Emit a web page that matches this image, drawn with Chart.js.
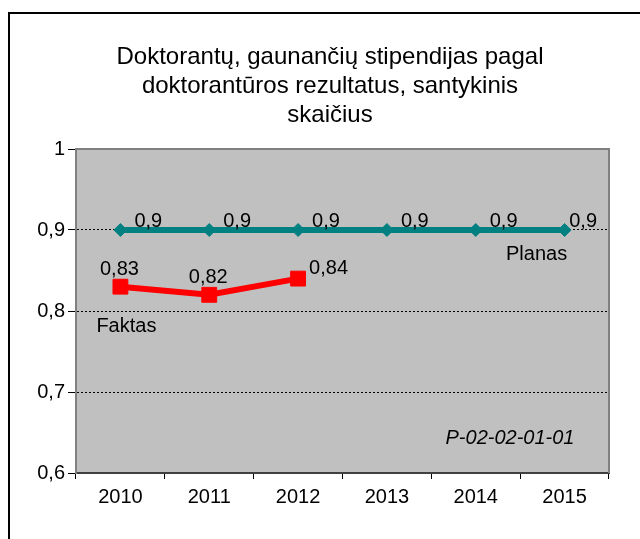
<!DOCTYPE html>
<html>
<head>
<meta charset="utf-8">
<script src="https://cdn.jsdelivr.net/npm/chart.js@4.4.1/dist/chart.umd.min.js"></script>
<style>
  html, body { margin: 0; padding: 0; background: #fff; overflow: hidden; }
  #frame { position: absolute; left: 8px; top: 12px; width: 700px; height: 600px;
           border-top: 2px solid #000; border-left: 2px solid #000; }
  #chart { position: absolute; left: 0; top: 0; }
</style>
</head>
<body>
<div id="frame"></div>
<canvas id="chart" width="640" height="539"></canvas>
<script>
// chart data
const years = ['2010', '2011', '2012', '2013', '2014', '2015'];
const planas = [0.9, 0.9, 0.9, 0.9, 0.9, 0.9];
const faktas = [0.83, 0.82, 0.84, null, null, null];
const yMin = 0.6;
const yMax = 1;
const yStep = 0.1;
const titleLines = [
    'Doktorantų, gaunančių stipendijas pagal',
    'doktorantūros rezultatus, santykinis',
    'skaičius'
];
const seriesNames = ['Planas', 'Faktas'];
const footnote = 'P-02-02-01-01';

const FONT = "'Liberation Sans', Arial, sans-serif";

function fmt(v) {
    return String(Math.round(v * 100) / 100).replace('.', ',');
}

// where the Faktas value labels sit (Excel moved the last one)
const faktasPlacement = ['above', 'above', 'right'];

const extras = {
    id: 'extras',
    beforeDraw(chart) {
        const ctx = chart.ctx;
        const a = chart.chartArea;
        ctx.save();
        ctx.fillStyle = '#C0C0C0';
        ctx.fillRect(a.left, a.top, a.right - a.left, a.bottom - a.top);

        // title, centred on the whole frame like Excel does it
        ctx.fillStyle = '#000';
        ctx.font = '24px ' + FONT;
        ctx.textAlign = 'center';
        ctx.textBaseline = 'alphabetic';
        titleLines.forEach((line, i) => {
            ctx.fillText(line, 330, 64 + i * 29);
        });
        ctx.restore();
    },
    beforeDatasetsDraw(chart) {
        const ctx = chart.ctx;
        const a = chart.chartArea;
        ctx.save();
        ctx.strokeStyle = '#808080';
        ctx.lineWidth = 2;
        ctx.beginPath();
        ctx.moveTo(a.left, a.top);
        ctx.lineTo(a.right, a.top);
        ctx.lineTo(a.right, a.bottom);
        ctx.stroke();
        ctx.restore();
    },
    afterDatasetsDraw(chart) {
        const ctx = chart.ctx;
        const a = chart.chartArea;
        const xs = chart.scales.x;
        const ys = chart.scales.y;
        ctx.save();
        ctx.fillStyle = '#000';
        ctx.font = '20px ' + FONT;
        ctx.textBaseline = 'alphabetic';

        // Planas labels, right of each point
        chart.getDatasetMeta(0).data.forEach((p, i) => {
            let text = fmt(planas[i]);
            let w = ctx.measureText(text).width;
            let left = Math.min(p.x + 14, a.right - 12 - w);
            ctx.textAlign = 'left';
            ctx.fillText(text, left, p.y - 3);
        });

        // Faktas labels
        chart.getDatasetMeta(1).data.forEach((p, i) => {
            if (faktas[i] === null) return;
            let text = fmt(faktas[i]);
            if (faktasPlacement[i] === 'right') {
                ctx.textAlign = 'left';
                ctx.fillText(text, p.x + 11, p.y - 5);
            } else {
                ctx.textAlign = 'center';
                ctx.fillText(text, p.x - 1, p.y - 12);
            }
        });

        // series names
        ctx.textAlign = 'center';
        ctx.fillText(seriesNames[0], xs.getPixelForValue(5) - 28, ys.getPixelForValue(0.9) + 30);
        ctx.fillText(seriesNames[1], xs.getPixelForValue(0) + 6, ys.getPixelForValue(0.8) + 21);

        // footnote code
        ctx.font = 'italic 20px ' + FONT;
        ctx.fillText(footnote, a.right - 99, a.bottom - 29);
        ctx.restore();
    }
};

let ctx = document.getElementById('chart').getContext('2d');
let chart = new Chart(ctx, {
    type: 'line',
    data: {
        labels: years,
        datasets: [{
            label: seriesNames[0],
            data: planas,
            borderColor: '#008080',
            backgroundColor: '#008080',
            borderWidth: 6,
            pointStyle: 'rectRot',
            pointRadius: 6.5,
            pointBorderWidth: 1,
            tension: 0
        }, {
            label: seriesNames[1],
            data: faktas,
            borderColor: '#FF0000',
            backgroundColor: '#FF0000',
            borderWidth: 6,
            pointStyle: 'rect',
            pointRadius: 10.5,
            pointBorderWidth: 1,
            tension: 0
        }]
    },
    options: {
        responsive: false,
        animation: false,
        layout: {
            padding: { left: 10, right: 31, top: 149, bottom: 26 }
        },
        plugins: {
            legend: { display: false },
            tooltip: { enabled: false },
            title: { display: false }
        },
        scales: {
            x: {
                offset: true,
                grid: {
                    offset: true,
                    drawOnChartArea: false,
                    drawTicks: true,
                    tickLength: 6,
                    color: '#000',
                    tickColor: '#000'
                },
                border: { display: true, color: '#404040', width: 2 },
                ticks: {
                    color: '#000',
                    padding: 6,
                    maxRotation: 0,
                    font: { family: FONT, size: 20 }
                },
                afterFit: function (scale) { scale.height = 40; }
            },
            y: {
                min: yMin,
                max: yMax,
                grid: {
                    color: c => (c.tick && (c.tick.value === yMin || c.tick.value === yMax)) ? 'rgba(0,0,0,0)' : '#000',
                    lineWidth: 1,
                    tickLength: 8,
                    tickColor: '#000',
                    tickBorderDash: []
                },
                border: { display: true, color: '#808080', width: 2, dash: [2, 2] },
                ticks: {
                    stepSize: yStep,
                    color: '#000',
                    padding: 3,
                    font: { family: FONT, size: 20 },
                    callback: v => fmt(v)
                },
                afterFit: function (scale) { scale.width = 66; }
            }
        }
    },
    plugins: [extras]
});
</script>
</body>
</html>
